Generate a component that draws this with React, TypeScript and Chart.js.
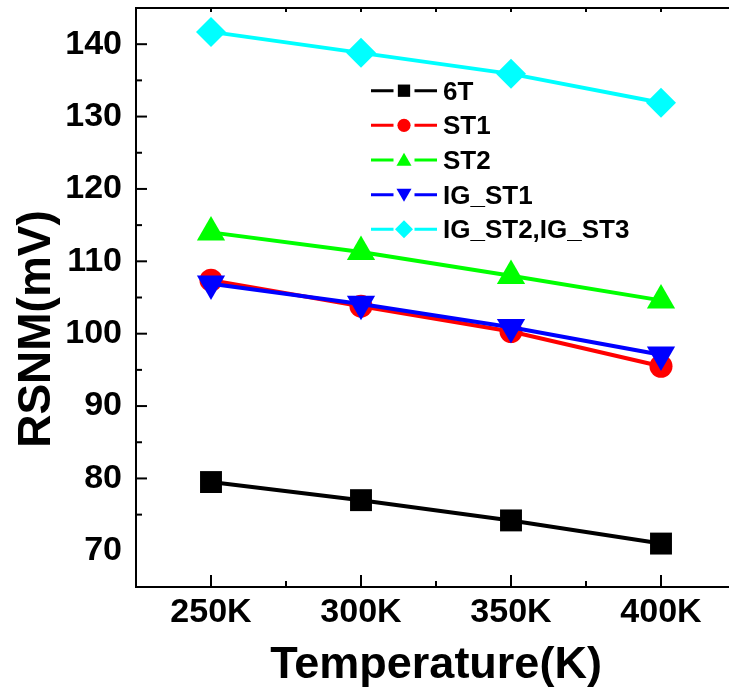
import React, { useEffect, useRef } from 'react';
import { Chart, registerables } from 'chart.js';
import { drawPoint } from 'chart.js/helpers';

Chart.register(...registerables);

// ---- data ----
const temperatures = [250, 300, 350, 400];
const xTickValues = [250, 300, 350, 400];
const yTickValues = [70, 80, 90, 100, 110, 120, 130, 140];
const seriesNames = ['6T', 'ST1', 'ST2', 'IG_ST1', 'IG_ST2,IG_ST3'];
const rsnm6T = [79.5, 77.0, 74.2, 71.0];
const rsnmST1 = [107.4, 103.8, 100.3, 95.5];
const rsnmST2 = [114.0, 111.3, 108.0, 104.6];
const rsnmIGST1 = [106.9, 104.1, 100.9, 97.1];
const rsnmIGST23 = [141.7, 138.8, 135.9, 131.9];

// ---- styles ----
const seriesValues = [rsnm6T, rsnmST1, rsnmST2, rsnmIGST1, rsnmIGST23];
const colors = ['#000000', '#ff0000', '#00ff00', '#0000ff', '#00ffff'];
const pointStyles = ['rect', 'circle', 'triangle', 'triangle', 'rectRot'];
const rotations = [0, 0, 0, 180, 0];
const pointRadii = [15.5, 11.5, 16.3, 16.3, 15];
const legendRadii = [8.7, 6.6, 8.7, 8.7, 9];

const FONT = '"Liberation Sans", Arial, Helvetica, sans-serif';
const CANVAS_W = 760;
const PAGE_H = 689;
const PAD_TOP = 31; // plot top inside the canvas
const AREA_TOP = 8; // wanted page y of the plot top
const SHIFT = AREA_TOP - PAD_TOP; // css offset of the canvas
const CANVAS_H = PAGE_H - SHIFT;

let shiftY = SHIFT;

const decorPlugin = {
  id: 'decor',
  beforeDatasetsDraw(chart: any) {
    const { ctx, chartArea: a, scales } = chart;
    const x = scales.x;
    const y = scales.y;
    ctx.save();
    ctx.strokeStyle = '#000';
    ctx.lineWidth = 2;
    ctx.lineCap = 'square';
    const seg = (x1: number, y1: number, x2: number, y2: number) => {
      ctx.beginPath();
      ctx.moveTo(x1, y1);
      ctx.lineTo(x2, y2);
      ctx.stroke();
    };
    // frame: left, bottom, top (the right edge lies outside the picture)
    const right = x.getPixelForValue(425);
    seg(a.left, a.top, a.left, a.bottom);
    seg(a.left, a.bottom, right, a.bottom);
    seg(a.left, a.top, right, a.top);
    ctx.lineCap = 'butt';
    for (let v = 250; v <= 400; v += 25) {
      const px = x.getPixelForValue(v);
      const major = v % 50 === 0;
      seg(px, a.bottom, px, a.bottom - (major ? 12 : 6));
      seg(px, a.top, px, a.top + 4);
    }
    for (let v = 75; v <= 140; v += 5) {
      const py = y.getPixelForValue(v);
      const major = v % 10 === 0;
      seg(a.left, py, a.left + (major ? 11 : 6), py);
    }
    ctx.restore();
  },
  afterDraw(chart: any) {
    const { ctx, chartArea: a } = chart;
    ctx.save();
    ctx.fillStyle = '#000';
    // axis titles
    ctx.font = `bold 45px ${FONT}`;
    ctx.textAlign = 'center';
    ctx.textBaseline = 'alphabetic';
    ctx.fillText('Temperature(K)', (a.left + a.right) / 2, 678 - shiftY);
    ctx.save();
    ctx.font = `bold 46px ${FONT}`;
    ctx.translate(50, 329 - shiftY);
    ctx.rotate(-Math.PI / 2);
    ctx.fillText('RSNM(mV)', 0, 0);
    ctx.restore();

    // legend
    const x1 = 371;
    const x2 = 437;
    const mx = 404;
    const gap = 10.5;
    const tx = 443;
    chart.data.datasets.forEach((ds: any, i: number) => {
      const cy = 90.7 + i * 34.65 - shiftY;
      ctx.strokeStyle = ds.borderColor;
      ctx.lineWidth = 3;
      ctx.beginPath();
      ctx.moveTo(x1, cy);
      ctx.lineTo(mx - gap, cy);
      ctx.moveTo(mx + gap, cy);
      ctx.lineTo(x2, cy);
      ctx.stroke();
      ctx.fillStyle = ds.pointBackgroundColor;
      drawPoint(
        ctx,
        {
          pointStyle: ds.pointStyle,
          rotation: ds.pointRotation,
          radius: legendRadii[i],
          borderWidth: 0,
        } as any,
        mx,
        cy + (pointStyles[i] === 'triangle' ? (rotations[i] ? -1.5 : 1.5) : 0)
      );
      ctx.fillStyle = '#000';
      ctx.font = `bold 26px ${FONT}`;
      ctx.textAlign = 'left';
      ctx.textBaseline = 'alphabetic';
      ctx.fillText(ds.label, tx, cy + 9);
    });
    ctx.restore();
  },
};

export default function App() {
  const ref = useRef<HTMLCanvasElement | null>(null);

  useEffect(() => {
    const canvas = ref.current;
    if (!canvas) return;
    shiftY = SHIFT;
    const datasets = seriesNames.map((name, i) => ({
      label: name,
      data: temperatures.map((t, j) => ({ x: t, y: seriesValues[i][j] })),
      borderColor: colors[i],
      backgroundColor: colors[i],
      pointBackgroundColor: colors[i],
      pointBorderColor: colors[i],
      pointBorderWidth: 0,
      pointStyle: pointStyles[i],
      pointRotation: rotations[i],
      pointRadius: pointRadii[i],
      borderWidth: 4,
      tension: 0,
      fill: false,
      order: seriesNames.length - i,
    }));
    const chart = new Chart(canvas, {
      type: 'line',
      data: { datasets },
      plugins: [decorPlugin],
      options: {
        animation: false,
        responsive: false,
        maintainAspectRatio: false,
        devicePixelRatio: 1,
        events: [],
        layout: { padding: { top: PAD_TOP, right: 24, left: 0, bottom: 0 } },
        plugins: { legend: { display: false }, tooltip: { enabled: false }, title: { display: false } },
        scales: {
          x: {
            type: 'linear',
            min: 225,
            max: 425,
            grid: { display: false, drawTicks: false },
            border: { display: false },
            afterBuildTicks: (s: any) => {
              s.ticks = xTickValues.map((v) => ({ value: v }));
            },
            afterFit: (s: any) => {
              s.height = 102;
            },
            ticks: {
              autoSkip: false,
              maxRotation: 0,
              padding: 9,
              color: '#000',
              font: { family: FONT, size: 34, weight: 'bold', lineHeight: 1 },
              callback: (v: any) => `${v}K`,
            },
          },
          y: {
            type: 'linear',
            min: 65,
            max: 145,
            grid: { display: false, drawTicks: false },
            border: { display: false },
            afterBuildTicks: (s: any) => {
              s.ticks = [65, ...yTickValues, 145].map((v) => ({ value: v }));
            },
            afterFit: (s: any) => {
              s.width = 136;
            },
            ticks: {
              autoSkip: false,
              padding: 14,
              color: '#000',
              font: { family: FONT, size: 34, weight: 'bold', lineHeight: 1 },
              callback: (v: any) => (yTickValues.includes(Number(v)) ? String(v) : ''),
            },
          },
        },
      } as any,
    });

    // safety: keep the plot top at the reference position if layout differs
    const d = AREA_TOP - chart.chartArea.top;
    if (Math.abs(d - SHIFT) > 0.5) {
      shiftY = d;
      canvas.style.top = `${d}px`;
      chart.update();
    }

    return () => chart.destroy();
  }, []);

  return (
    <div
      style={{
        position: 'absolute',
        left: 0,
        top: 0,
        width: 729,
        height: 689,
        overflow: 'hidden',
        background: '#fff',
      }}
    >
      <canvas
        ref={ref}
        width={CANVAS_W}
        height={CANVAS_H}
        style={{ position: 'absolute', left: 0, top: SHIFT, width: CANVAS_W, height: CANVAS_H }}
      />
    </div>
  );
}
